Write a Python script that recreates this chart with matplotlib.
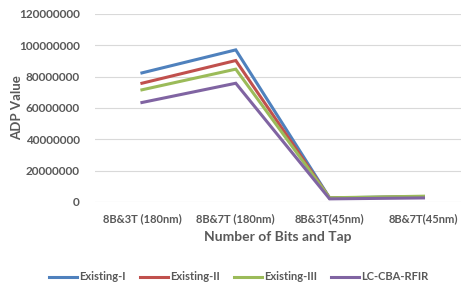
import matplotlib
matplotlib.use("Agg")
import matplotlib.pyplot as plt

# ADP values
categories = ["8B&3T (180nm)", "8B&7T (180nm)", "8B&3T(45nm)", "8B&7T(45nm)"]
existing_1 = [82400000, 97100000, 2600000, 3500000]
existing_2 = [75800000, 90300000, 2500000, 3300000]
existing_3 = [71600000, 84800000, 2700000, 3700000]
lc_cba_rfir = [63500000, 75800000, 2000000, 2600000]
y_ticks = [0, 20000000, 40000000, 60000000, 80000000, 100000000, 120000000]

series = [
    ("Existing-I", existing_1, "#4F81BD"),
    ("Existing-II", existing_2, "#C0504D"),
    ("Existing-III", existing_3, "#9BBB59"),
    ("LC-CBA-RFIR", lc_cba_rfir, "#8064A2"),
]

plt.rcParams['font.family'] = ['Lato', 'DejaVu Sans']
text_color = "#595959"

fig = plt.figure(figsize=(4.61, 2.86), dpi=100)
ax = fig.add_axes([95 / 461, 1 - 202 / 286, 1 - 95 / 461, (202 - 14) / 286])

x = list(range(len(categories)))
for name, vals, color in series:
    ax.plot(x, vals, color=color, linewidth=2.2, label=name, solid_joinstyle='miter')

ax.set_xlim(-0.5, 3.4)
ax.set_ylim(0, 120000000)
ax.set_yticks(y_ticks)
ax.set_yticklabels([str(v) for v in y_ticks], fontsize=8.5, fontweight='bold', color=text_color)
ax.set_xticks(x)
ax.set_xticklabels(categories, fontsize=8, fontweight='bold', color=text_color)
ax.tick_params(length=0, pad=8)
ax.tick_params(axis='y', pad=11)

ax.grid(axis='y', color="#D9D9D9", linewidth=0.8)
ax.set_axisbelow(True)
for s in ax.spines.values():
    s.set_visible(False)

ax.set_ylabel("ADP Value", fontsize=9.5, fontweight='bold', color=text_color)
ax.yaxis.set_label_coords(-72 / 366, 0.5)
ax.set_xlabel("Number of Bits and Tap", fontsize=10, fontweight='bold', color=text_color, labelpad=5)

leg = fig.legend(loc='center', bbox_to_anchor=(0.518, 1 - 277 / 286), ncol=4, frameon=False,
                 fontsize=8, handlelength=2.5, handletextpad=0.2, columnspacing=1.3)
for t in leg.get_texts():
    t.set_color(text_color)
    t.set_fontweight('bold')

fig.savefig("out.png", dpi=100)
